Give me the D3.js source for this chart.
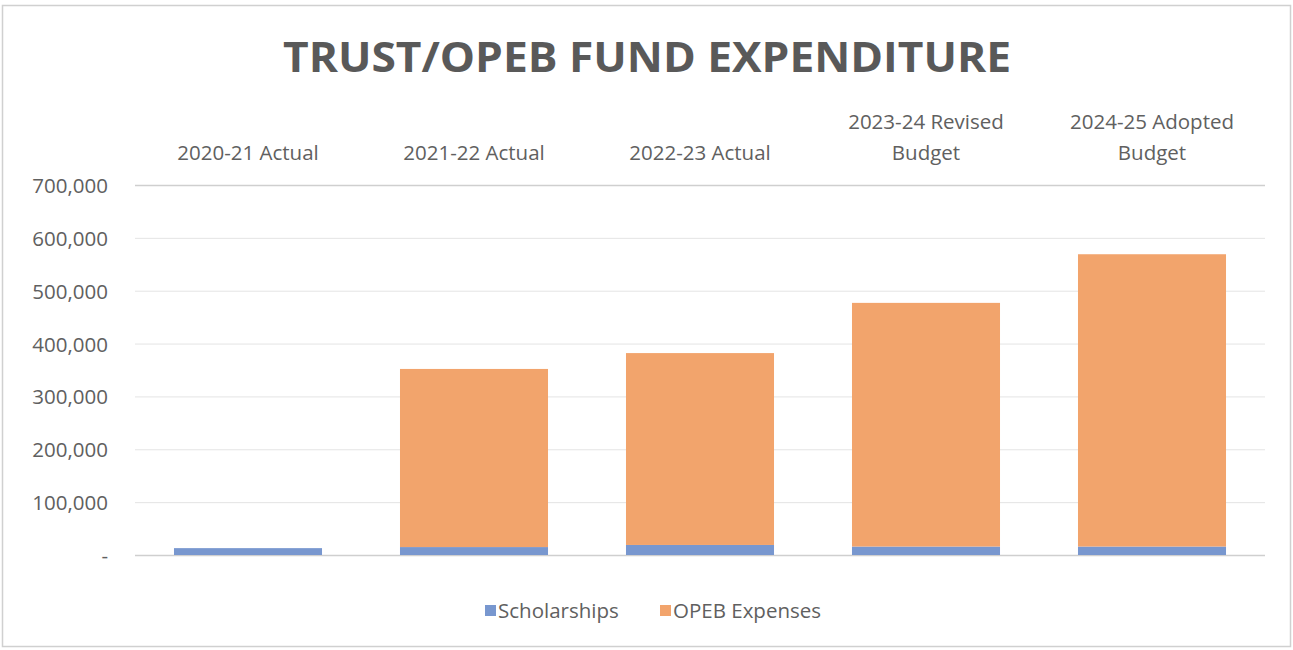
<!DOCTYPE html>
<html>
<head>
<meta charset="utf-8">
<script src="https://cdn.jsdelivr.net/npm/d3@7"></script>
<style>
  html, body { margin: 0; padding: 0; background: #fff; }
  svg { display: block; }
  text { font-family: "Open Sans", "Noto Sans", sans-serif; }
</style>
</head>
<body>
<svg id="chart" width="1293" height="650"></svg>
<script>
// Fiscal years (two-line labels split on "|")
const categories = ["2020-21 Actual", "2021-22 Actual", "2022-23 Actual", "2023-24 Revised|Budget", "2024-25 Adopted|Budget"];
const scholarships = [13000, 15000, 19000, 16000, 16000];
const opebExpenses = [0, 337000, 363000, 461000, 553000];
const yTicks = [0, 100000, 200000, 300000, 400000, 500000, 600000, 700000];
const seriesNames = ["Scholarships", "OPEB Expenses"];
const seriesColors = ["#7897cf", "#f2a46c"];

const svg = d3.select("#chart");
const W = 1293, H = 650;
const labelSize = 20.5;

// outer frame
svg.append("rect")
  .attr("x", 2.5).attr("y", 5.5).attr("width", W - 5).attr("height", H - 9)
  .attr("fill", "#fff").attr("stroke", "#d0d0d0").attr("stroke-width", 1.5);

// title
svg.append("text")
  .attr("x", 647).attr("y", 72)
  .attr("text-anchor", "middle")
  .attr("font-size", 42).attr("font-weight", 700)
  .attr("fill", "#595959")
  .attr("textLength", 728).attr("lengthAdjust", "spacingAndGlyphs")
  .text("TRUST/OPEB FUND EXPENDITURE");

const x = d3.scaleBand()
  .domain(categories)
  .range([135, 1265])
  .paddingInner(0.345)
  .paddingOuter(0.1725);

const y = d3.scaleLinear().domain([0, 700000]).range([555, 185]);

// gridlines
svg.append("g")
  .selectAll("line")
  .data(yTicks)
  .join("line")
  .attr("x1", 135).attr("x2", 1265)
  .attr("y1", d => y(d) + 0.5).attr("y2", d => y(d) + 0.5)
  .attr("stroke", d => d === 0 || d === 700000 ? "#cfcfcf" : "#e4e4e4")
  .attr("stroke-width", d => d === 0 || d === 700000 ? 1.5 : 1);

// y axis labels
const fmt = d3.format(",");
svg.append("g")
  .selectAll("text")
  .data(yTicks)
  .join("text")
  .attr("x", 108)
  .attr("y", d => y(d) + 8)
  .attr("text-anchor", "end")
  .attr("font-size", labelSize)
  .attr("fill", "#606060")
  .text(d => d === 0 ? "-" : fmt(d));

// stacked bars
const rows = categories.map((c, i) => ({ cat: c, Scholarships: scholarships[i], "OPEB Expenses": opebExpenses[i] }));
const stack = d3.stack().keys(seriesNames)(rows);

svg.append("g")
  .selectAll("g")
  .data(stack)
  .join("g")
  .attr("fill", (d, i) => seriesColors[i])
  .selectAll("rect")
  .data(d => d)
  .join("rect")
  .attr("x", d => x(d.data.cat))
  .attr("width", x.bandwidth())
  .attr("y", d => y(d[1]))
  .attr("height", d => Math.max(0, y(d[0]) - y(d[1])));

// category labels above the plot
const catG = svg.append("g");
categories.forEach(c => {
  const lines = c.split("|");
  const cx = x(c) + x.bandwidth() / 2;
  lines.forEach((ln, j) => {
    catG.append("text")
      .attr("x", cx)
      .attr("y", 160 - (lines.length - 1 - j) * 31)
      .attr("text-anchor", "middle")
      .attr("font-size", labelSize)
      .attr("fill", "#606060")
      .text(ln);
  });
});

// legend
const legend = svg.append("g");
const legendItems = [
  { name: seriesNames[0], color: seriesColors[0], x: 485 },
  { name: seriesNames[1], color: seriesColors[1], x: 660 }
];
legendItems.forEach(it => {
  legend.append("rect").attr("x", it.x).attr("y", 605).attr("width", 11).attr("height", 11).attr("fill", it.color);
  legend.append("text").attr("x", it.x + 13).attr("y", 618)
    .attr("font-size", labelSize).attr("fill", "#606060").text(it.name);
});
</script>
</body>
</html>
